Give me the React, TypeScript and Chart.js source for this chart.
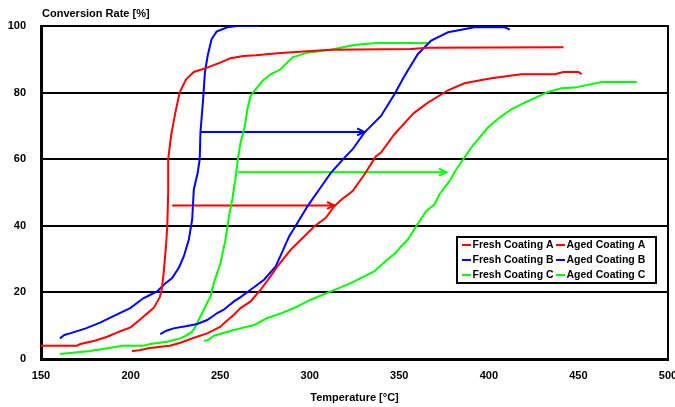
import React, { useEffect, useRef } from 'react';
import { Chart, registerables } from 'chart.js';

Chart.register(...registerables);

// ---- data: [temperature °C, conversion %] ----
const freshA: number[][] = [
  [150, 4], [170, 4], [172, 4.5], [180, 5.5], [187, 6.7], [195, 8.5], [200, 9.5], [205, 11.7],
  [210, 14], [213, 15.4], [216.2, 18.4], [217.3, 20.5], [218.5, 26], [219.8, 34], [220.5, 40],
  [221, 50], [221, 60], [222.6, 67], [225, 74], [227.4, 80], [231, 84], [235.3, 86.2],
  [242.8, 87.5], [250, 89], [255.8, 90.3], [263, 91], [270, 91.2], [283.8, 91.9], [311.8, 92.9],
  [356.6, 93.1], [366, 93.5], [441.7, 93.6],
];
const agedA: number[][] = [
  [200.8, 2.4], [205, 2.6], [210, 3.2], [216.6, 3.7], [222, 4], [227.8, 4.9], [235, 6.3],
  [242.8, 7.7], [250.2, 9.7], [252, 10.7], [257.7, 13.3], [261.4, 15.3], [267, 17.3],
  [272.6, 20.8], [277, 24], [282, 27.8], [289.4, 32.8], [296.9, 36.8], [302.5, 39.8], [309, 42.4],
  [313.7, 45.9], [318, 48], [324, 50.4], [330.5, 55.4], [337, 60.9], [339.8, 62], [347.3, 67.5],
  [356.6, 73], [358.5, 74], [366, 77], [377.2, 80.7], [386.4, 82.8], [393, 83.5], [401.4, 84.3],
  [418.2, 85.5], [437, 85.5], [441.6, 86.2], [450, 86.2], [451.8, 85.5],
];
const freshB: number[][] = [
  [160.6, 6.2], [163, 7.2], [166.2, 7.7], [175, 9.2], [183, 10.9], [191, 13], [199.8, 15.3],
  [207.3, 18.3], [210, 19], [214.8, 20.3], [219, 22.5], [223.2, 24.3], [227, 27.5], [229.7, 30.8],
  [232.5, 35.8], [234.4, 41.9], [235.3, 50.9], [237.5, 56], [238.6, 60], [239, 68], [240.5, 78],
  [241.5, 86], [243, 91], [245.2, 96], [248, 98.3], [254, 99.6], [259.6, 100], [271.5, 100],
];
const agedB: number[][] = [
  [216.6, 7.5], [220, 8.5], [224, 9.2], [231.6, 9.9], [237.2, 10.5], [242.8, 11.7], [248.4, 13.8],
  [252, 14.8], [257.7, 17.3], [261.4, 18.6], [267, 20.8], [274.5, 23.8], [281, 27.8],
  [284.8, 32.3], [288.5, 36.8], [293.2, 40.9], [298.8, 45.9], [305.3, 50.9], [311.8, 55.9],
  [319.3, 60.4], [324, 63], [330.5, 68], [339.8, 73], [347.3, 79.5], [352.9, 85], [360.4, 91.6],
  [367.8, 95.6], [377.2, 98.1], [392, 99.6], [408.8, 99.6], [411.7, 98.9],
];
const freshC: number[][] = [
  [160.6, 1.5], [177.4, 2.4], [192.4, 3.7], [195, 4], [207.3, 4], [211, 4.5], [220.4, 5.2],
  [227.8, 6.2], [231, 7], [234.4, 8.2], [236.5, 10], [238, 11.7], [240.9, 14.8], [244.6, 18.8],
  [246.5, 22.8], [250.2, 28.8], [253, 35.8], [254.9, 42.9], [256.8, 47.9], [258.5, 54],
  [259.9, 60], [261.4, 65], [263.8, 70], [265.2, 75], [267, 79], [269.8, 81], [273.6, 83.5],
  [278.2, 85.5], [283.8, 87], [290.4, 90.6], [298.8, 92], [311.8, 92.9], [324.8, 94.3],
  [337, 94.9], [366, 94.9],
];
const agedC: number[][] = [
  [240.9, 5.5], [243, 5.6], [246.5, 7.0], [257.7, 8.7], [261.4, 9.2], [268.9, 10.2],
  [276.4, 12.3], [284, 13.7], [291.3, 15.3], [300.6, 17.8], [311.8, 20.3], [323, 22.8],
  [336, 26.3], [342.6, 29.5], [348.2, 32], [351, 33.8], [354.7, 35.8], [359.4, 39.8], [365, 44.4],
  [369.6, 46.4], [372.4, 49.4], [378, 53.4], [381.8, 56.9], [386.4, 60.5], [390.2, 63.5],
  [394.8, 66.5], [399.5, 69.5], [406, 72.5], [412.6, 75], [420, 77], [427.5, 78.8],
  [433.1, 80.2], [440.6, 81.3], [448, 81.5], [463, 83.2], [482.6, 83.2],
];
const arrowA: number[][] = [[223.2, 46.1], [313.7, 46.1]];
const arrowB: number[][] = [[239, 68.2], [330.5, 68.2]];
const arrowC: number[][] = [[259.9, 56.1], [376.2, 56.1]];

const seriesNames = [
  'Fresh Coating A', 'Aged Coating A',
  'Fresh Coating B', 'Aged Coating B',
  'Fresh Coating C', 'Aged Coating C',
];
const seriesData = [freshA, agedA, freshB, agedB, freshC, agedC];
const seriesColors = ['#ff0000', '#ff0000', '#0000ff', '#0000ff', '#00ff00', '#00ff00'];
const arrowData = [arrowA, arrowB, arrowC];
const arrowColors = ['#ff0000', '#0000ff', '#00ff00'];

const xMin = 150, xMax = 500, xStep = 50;
const yMin = 0, yMax = 100, yStep = 20;
const xTitle = 'Temperature [°C]';
const yTitle = 'Conversion Rate [%]';

const FONT = "'Liberation Sans', Arial, Helvetica, sans-serif";

const toPts = (arr: number[][]) => arr.map(([x, y]) => ({ x, y }));

const decorPlugin = {
  id: 'decor',
  afterDatasetsDraw(chart: any) {
    const { ctx, chartArea } = chart;
    // arrowheads
    chart.data.datasets.forEach((ds: any, i: number) => {
      if (!ds.isArrow) return;
      const pts = chart.getDatasetMeta(i).data;
      const a = pts[pts.length - 2], b = pts[pts.length - 1];
      const ang = Math.atan2(b.y - a.y, b.x - a.x);
      const len = 8, spread = 0.45;
      ctx.save();
      ctx.strokeStyle = ds.borderColor;
      ctx.lineWidth = 2;
      ctx.beginPath();
      ctx.moveTo(b.x - len * Math.cos(ang - spread), b.y - len * Math.sin(ang - spread));
      ctx.lineTo(b.x, b.y);
      ctx.lineTo(b.x - len * Math.cos(ang + spread), b.y - len * Math.sin(ang + spread));
      ctx.stroke();
      ctx.restore();
    });
    // right border
    ctx.save();
    ctx.strokeStyle = '#000';
    ctx.lineWidth = 2;
    ctx.beginPath();
    ctx.moveTo(chartArea.right, chartArea.top - 1);
    ctx.lineTo(chartArea.right, chartArea.bottom + 1);
    ctx.stroke();
    ctx.restore();
    // legend
    const lx = chartArea.right - 211, ly = chartArea.top + 211, lw = 199, lh = 46;
    ctx.save();
    ctx.fillStyle = '#fff';
    ctx.fillRect(lx, ly, lw, lh);
    ctx.strokeStyle = '#000';
    ctx.lineWidth = 2;
    ctx.strokeRect(lx, ly, lw, lh);
    ctx.font = `bold 10.5px ${FONT}`;
    ctx.textBaseline = 'middle';
    ctx.textAlign = 'left';
    const colX = [lx + 5, lx + 99];
    for (let k = 0; k < seriesNames.length; k++) {
      const col = k % 2, row = Math.floor(k / 2);
      const cy = ly + 8 + row * 15;
      const sx = colX[col];
      ctx.strokeStyle = seriesColors[k];
      ctx.lineWidth = 2;
      ctx.beginPath();
      ctx.moveTo(sx, cy);
      ctx.lineTo(sx + 9, cy);
      ctx.stroke();
      ctx.fillStyle = '#000';
      ctx.fillText(seriesNames[k], sx + 10.5, cy + 0.5);
    }
    ctx.restore();
  },
  afterDraw(chart: any) {
    const { ctx, chartArea } = chart;
    ctx.save();
    ctx.font = `bold 11px ${FONT}`;
    ctx.fillStyle = '#000';
    ctx.textBaseline = 'middle';
    ctx.textAlign = 'left';
    ctx.fillText(yTitle, chartArea.left + 1, 14);
    ctx.restore();
  },
};

export default function App() {
  const ref = useRef<HTMLCanvasElement | null>(null);
  useEffect(() => {
    document.body.style.margin = '0';
    if (!ref.current) return;
    Chart.defaults.font.family = FONT;
    const datasets: any[] = seriesData.map((d, i) => ({
      label: seriesNames[i],
      data: toPts(d),
      borderColor: seriesColors[i],
      backgroundColor: seriesColors[i],
      borderWidth: 2,
      pointRadius: 0,
      tension: 0,
      fill: false,
    }));
    arrowData.forEach((d, i) => {
      datasets.push({
        label: 'arrow' + i,
        isArrow: true,
        data: toPts(d),
        borderColor: arrowColors[i],
        borderWidth: 2,
        pointRadius: 0,
        fill: false,
      });
    });
    const chart = new Chart(ref.current, {
      type: 'line',
      data: { datasets },
      options: {
        animation: false,
        responsive: false,
        layout: { padding: { top: 26, right: 7, left: 0, bottom: 0 } },
        plugins: { legend: { display: false }, tooltip: { enabled: false } },
        scales: {
          x: {
            type: 'linear',
            min: xMin,
            max: xMax,
            afterFit: (s: any) => { s.height = 48; s.paddingLeft = 0; s.paddingRight = 0; },
            grid: { display: false, drawTicks: false },
            border: { display: true, color: '#000', width: 3 },
            ticks: {
              stepSize: xStep,
              padding: 10,
              color: '#000',
              font: { size: 11, weight: 'bold' },
              maxRotation: 0,
            },
            title: {
              display: true,
              text: xTitle,
              color: '#000',
              font: { size: 11, weight: 'bold' },
              padding: { top: 0, bottom: 2 },
            },
          },
          y: {
            type: 'linear',
            min: yMin,
            max: yMax,
            afterFit: (s: any) => { s.width = 41; s.paddingTop = 0; s.paddingBottom = 0; },
            grid: { color: '#000', lineWidth: 2, drawTicks: false },
            border: { display: true, color: '#000', width: 3 },
            ticks: {
              stepSize: yStep,
              padding: 15,
              color: '#000',
              font: { size: 11, weight: 'bold' },
            },
          },
        },
      } as any,
      plugins: [decorPlugin],
    });
    return () => chart.destroy();
  }, []);
  return (
    <div style={{ width: 675, height: 407, background: '#fff' }}>
      <canvas ref={ref} width={675} height={407} style={{ display: 'block' }} />
    </div>
  );
}
